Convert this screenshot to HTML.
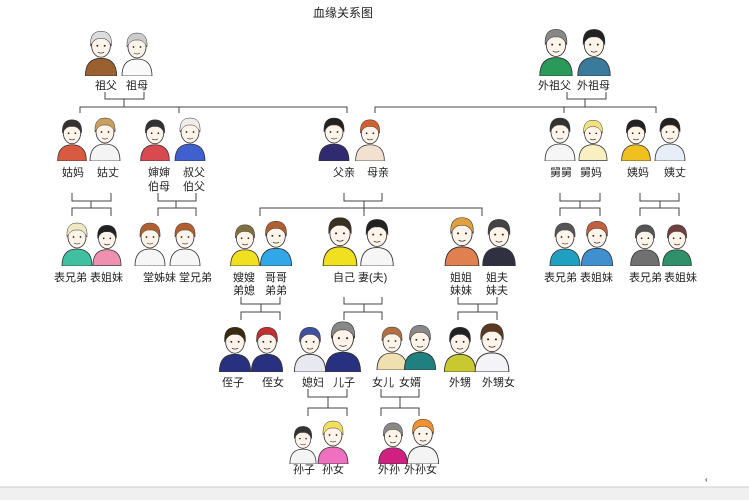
<!DOCTYPE html>
<html><head><meta charset="utf-8"><style>
html,body{margin:0;padding:0;background:#fff}
body{width:749px;height:500px;overflow:hidden;position:relative}
svg{position:absolute;left:0;top:0}
text{font-family:"Liberation Sans","Noto Sans CJK SC",sans-serif;font-size:11px;fill:#222}
</style></head><body>
<svg width="749" height="500" viewBox="0 0 749 500">
<defs>
<symbol id="p" viewBox="0 0 32 48">
<path d="M1 48 Q1 31 16 31 Q31 31 31 48Z" fill="currentColor" stroke="#333" stroke-width="0.8"/>
<ellipse cx="16" cy="19" rx="9" ry="11" fill="#fff4ea" stroke="#333" stroke-width="0.8"/>
<path d="M6 19 Q5 5 16 5 Q27 5 26 19 Q22 11 16 12 Q10 11 6 19Z" fill="var(--h,#333)" stroke="#333" stroke-width="0.5"/>
<circle cx="12.5" cy="19" r="0.9" fill="#222"/><circle cx="19.5" cy="19" r="0.9" fill="#222"/>
<path d="M13 25 Q16 27 19 25" fill="none" stroke="#333" stroke-width="0.7"/>
</symbol>
</defs>
<rect x="0" y="487" width="749" height="13" fill="#f0f0f0"/>
<line x1="0" y1="487" x2="749" y2="487" stroke="#ccc"/>
<text x="343" y="17" text-anchor="middle" style="font-size:12px">血缘关系图</text>
<g fill="none" stroke="#444" stroke-width="1">
<path d="M105 92V99H144V92M124 99V107M80 113V107H347V113M179 107V113"/>
<path d="M567 92V99H606V92M585 99V107M375 113V107H656V113M564 107V113"/>
<path d="M72 193V201H111V193M91 201V208M72 216V208H111V216"/>
<path d="M158 193V201H196V193M176 201V208M158 216V208H196V216"/>
<path d="M344 193V201H382V193M364 201V216M260 216V208H482V216"/>
<path d="M560 193V201H600V193M580 201V208M560 216V208H600V216"/>
<path d="M640 193V201H679V193M660 201V208M640 216V208H679V216"/>
<path d="M241 297V304H280V297M261 304V312M241 320V312H280V320"/>
<path d="M344 297V304H382V297M364 304V312M344 320V312H382V320"/>
<path d="M458 297V304H497V297M478 304V312M458 320V312H497V320"/>
<path d="M308 389V397H347V389M328 397V408M308 416V408H347V416"/>
<path d="M381 389V397H419V389M400 397V408M381 416V408H419V416"/>
</g>
<!-- gen1 -->
<use href="#p" x="78" y="26" width="46" height="50" style="color:#9a6030;--h:#ddd"/>
<use href="#p" x="116" y="28" width="42" height="48" style="color:#fafafa;--h:#ccc"/>
<use href="#p" x="533" y="24" width="46" height="52" style="color:#2a9a5a;--h:#888"/>
<use href="#p" x="571" y="24" width="46" height="52" style="color:#3a7a9a;--h:#222"/>
<!-- gen2 -->
<use href="#p" x="56" y="115" width="32" height="46" style="color:#d85a40;--h:#333"/>
<use href="#p" x="89" y="113" width="32" height="48" style="color:#f4f4f4;--h:#c9a060"/>
<use href="#p" x="139" y="115" width="32" height="46" style="color:#d84a50;--h:#333"/>
<use href="#p" x="174" y="113" width="32" height="48" style="color:#4060d0;--h:#eee"/>
<use href="#p" x="314" y="113" width="40" height="48" style="color:#302a70;--h:#222"/>
<use href="#p" x="352" y="115" width="36" height="46" style="color:#f2e0d0;--h:#d06030"/>
<use href="#p" x="544" y="113" width="32" height="48" style="color:#f6f6f6;--h:#333"/>
<use href="#p" x="578" y="115" width="30" height="46" style="color:#f8f0c0;--h:#f0e080"/>
<use href="#p" x="620" y="115" width="32" height="46" style="color:#f0c020;--h:#222"/>
<use href="#p" x="654" y="113" width="32" height="48" style="color:#e8eef8;--h:#222"/>
<!-- gen3 -->
<use href="#p" x="60" y="218" width="34" height="48" style="color:#40c0a0;--h:#f0e8c0"/>
<use href="#p" x="92" y="220" width="30" height="46" style="color:#f090b0;--h:#222"/>
<use href="#p" x="134" y="218" width="32" height="48" style="color:#f6f6f6;--h:#b06030"/>
<use href="#p" x="168" y="218" width="34" height="48" style="color:#f6f6f6;--h:#b06030"/>
<use href="#p" x="229" y="220" width="32" height="46" style="color:#f0e020;--h:#807040"/>
<use href="#p" x="258" y="216" width="36" height="50" style="color:#30a8e8;--h:#b06030"/>
<use href="#p" x="319" y="212" width="42" height="54" style="color:#f0e020;--h:#3a3020"/>
<use href="#p" x="358" y="214" width="38" height="52" style="color:#f6f6f6;--h:#222"/>
<use href="#p" x="444" y="212" width="36" height="54" style="color:#e08050;--h:#e0a040"/>
<use href="#p" x="480" y="214" width="38" height="52" style="color:#303040;--h:#444"/>
<use href="#p" x="548" y="218" width="34" height="48" style="color:#20a0c0;--h:#555"/>
<use href="#p" x="580" y="216" width="34" height="50" style="color:#4090d0;--h:#c06040"/>
<use href="#p" x="629" y="220" width="32" height="46" style="color:#707070;--h:#555"/>
<use href="#p" x="661" y="220" width="32" height="46" style="color:#30906a;--h:#704040"/>
<!-- gen4 -->
<use href="#p" x="217" y="322" width="36" height="50" style="color:#283080;--h:#3a2a10"/>
<use href="#p" x="249" y="322" width="36" height="50" style="color:#283080;--h:#c03030"/>
<use href="#p" x="292" y="322" width="36" height="50" style="color:#e8e8f0;--h:#4050a0"/>
<use href="#p" x="324" y="316" width="38" height="56" style="color:#283080;--h:#888"/>
<use href="#p" x="375" y="322" width="34" height="48" style="color:#f0e0b0;--h:#b07040"/>
<use href="#p" x="403" y="320" width="34" height="50" style="color:#208080;--h:#888"/>
<use href="#p" x="442" y="322" width="36" height="50" style="color:#c8c830;--h:#222"/>
<use href="#p" x="474" y="318" width="36" height="54" style="color:#f4f4f8;--h:#5a3a20"/>
<!-- gen5 -->
<use href="#p" x="288" y="422" width="30" height="42" style="color:#f4f4f4;--h:#333"/>
<use href="#p" x="314" y="416" width="38" height="48" style="color:#f070c0;--h:#f0e060"/>
<use href="#p" x="374" y="418" width="38" height="46" style="color:#d02080;--h:#888"/>
<use href="#p" x="406" y="414" width="34" height="50" style="color:#f4f4f4;--h:#f09030"/>
<!-- labels -->
<text x="95" y="89">祖父</text><text x="126" y="89">祖母</text>
<text x="538" y="89">外祖父</text><text x="577" y="89">外祖母</text>
<text x="62" y="176">姑妈</text><text x="97" y="176">姑丈</text>
<text x="148" y="176">婶婶</text><text x="183" y="176">叔父</text>
<text x="148" y="190">伯母</text><text x="183" y="190">伯父</text>
<text x="333" y="176">父亲</text><text x="367" y="176">母亲</text>
<text x="550" y="176">舅舅</text><text x="580" y="176">舅妈</text>
<text x="627" y="176">姨妈</text><text x="664" y="176">姨丈</text>
<text x="54" y="281">表兄弟</text><text x="90" y="281">表姐妹</text>
<text x="143" y="281">堂姊妹</text><text x="179" y="281">堂兄弟</text>
<text x="233" y="281">嫂嫂</text><text x="265" y="281">哥哥</text>
<text x="233" y="294">弟媳</text><text x="265" y="294">弟弟</text>
<text x="333" y="281">自己</text><text x="358" y="281">妻(夫)</text>
<text x="450" y="281">姐姐</text><text x="486" y="281">姐夫</text>
<text x="450" y="294">妹妹</text><text x="486" y="294">妹夫</text>
<text x="544" y="281">表兄弟</text><text x="580" y="281">表姐妹</text>
<text x="629" y="281">表兄弟</text><text x="664" y="281">表姐妹</text>
<text x="222" y="386">侄子</text><text x="262" y="386">侄女</text>
<text x="302" y="386">媳妇</text><text x="333" y="386">儿子</text>
<text x="372" y="386">女儿</text><text x="399" y="386">女婿</text>
<text x="449" y="386">外甥</text><text x="482" y="386">外甥女</text>
<text x="293" y="473">孙子</text><text x="322" y="473">孙女</text>
<text x="378" y="473">外孙</text><text x="404" y="473">外孙女</text>
<text x="705" y="482" style="font-size:8px">‹</text>
</svg>
</body></html>
